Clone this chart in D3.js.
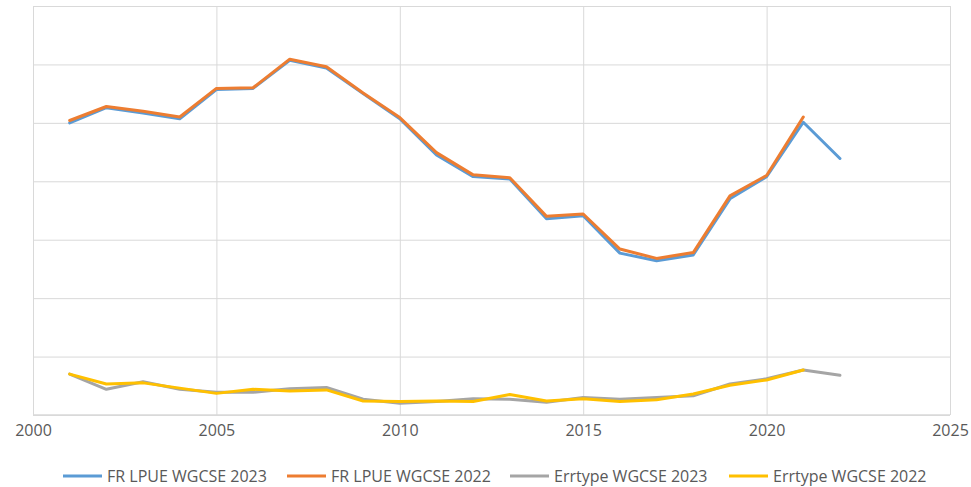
<!DOCTYPE html>
<html>
<head>
<meta charset="utf-8">
<script src="https://cdn.jsdelivr.net/npm/d3@7"></script>
<style>
  body { margin: 0; background: #fff; }
  text { font-family: "Open Sans", sans-serif; fill: #595959; }
</style>
</head>
<body>
<svg id="chart" width="971" height="487"></svg>
<script>
// years and series values (arbitrary units, 1 = one gridline)
var years = d3.range(2001, 2023);
var lpue2023 = [5.00, 5.26, 5.17, 5.07, 5.57, 5.59, 6.07, 5.94, 5.50, 5.07, 4.45,
                4.08, 4.04, 3.36, 3.41, 2.77, 2.64, 2.74, 3.70, 4.08, 5.01, 4.39];
var lpue2022 = [5.04, 5.28, 5.20, 5.10, 5.59, 5.60, 6.09, 5.96, 5.51, 5.09, 4.49,
                4.11, 4.06, 3.40, 3.44, 2.84, 2.68, 2.78, 3.75, 4.10, 5.10];
var err2023 = [0.70, 0.44, 0.57, 0.44, 0.39, 0.39, 0.45, 0.47, 0.27, 0.20, 0.23,
               0.28, 0.27, 0.22, 0.30, 0.27, 0.30, 0.33, 0.53, 0.62, 0.77, 0.68];
var err2022 = [0.70, 0.53, 0.55, 0.46, 0.37, 0.44, 0.41, 0.43, 0.24, 0.23, 0.24,
               0.23, 0.35, 0.24, 0.28, 0.23, 0.26, 0.36, 0.51, 0.60, 0.77];
var xTicks = [2000, 2005, 2010, 2015, 2020, 2025];
var seriesNames = ["FR LPUE WGCSE 2023", "FR LPUE WGCSE 2022", "Errtype WGCSE 2023", "Errtype WGCSE 2022"];
var colors = ["#5B9BD5", "#ED7D31", "#A5A5A5", "#FFC000"];

var svg = d3.select("#chart"),
    margin = {top: 6, right: 21, bottom: 72, left: 33},
    width = +svg.attr("width") - margin.left - margin.right,
    height = +svg.attr("height") - margin.top - margin.bottom;

var g = svg.append("g")
    .attr("transform", "translate(" + margin.left + "," + margin.top + ")");

var x = d3.scaleLinear().domain([2000, 2025]).range([0, width]);
var y = d3.scaleLinear().domain([0, 7]).range([height, 0]);

// horizontal gridlines
g.append("g")
    .call(d3.axisLeft(y).ticks(7).tickSize(-width).tickFormat(""))
    .call(function(a) {
      a.select(".domain").remove();
      a.selectAll("line").attr("stroke", "#D9D9D9").attr("stroke-width", 1);
    });

// vertical gridlines + year labels
g.append("g")
    .attr("transform", "translate(0," + height + ")")
    .call(d3.axisBottom(x).tickValues(xTicks).tickSize(-height).tickPadding(10).tickFormat(d3.format("d")))
    .call(function(a) {
      a.select(".domain").remove();
      a.selectAll("line").attr("stroke", "#D9D9D9").attr("stroke-width", 1);
      a.selectAll("text").attr("font-size", 16).attr("fill", "#595959")
        .style("font-family", "'Open Sans', sans-serif");
    });

// bottom axis line
g.append("line")
    .attr("x1", 0).attr("x2", width)
    .attr("y1", height).attr("y2", height)
    .attr("stroke", "#D9D9D9").attr("stroke-width", 1.5);

var line = d3.line()
    .x(function(d, i) { return x(years[i]); })
    .y(function(d) { return y(d); });

// draw in Excel order, later series on top
[lpue2023, lpue2022, err2023, err2022].forEach(function(s, k) {
  g.append("path")
      .datum(s)
      .attr("fill", "none")
      .attr("stroke", colors[k])
      .attr("stroke-width", 3)
      .attr("stroke-linejoin", "round")
      .attr("stroke-linecap", "round")
      .attr("d", line);
});

// legend
var legendX = [63, 287, 510, 729];
var legend = svg.append("g").attr("transform", "translate(0,476)");
seriesNames.forEach(function(name, k) {
  legend.append("line")
      .attr("x1", legendX[k]).attr("x2", legendX[k] + 39)
      .attr("y1", 0).attr("y2", 0)
      .attr("stroke", colors[k]).attr("stroke-width", 3);
  legend.append("text")
      .attr("x", legendX[k] + 44)
      .attr("y", 6)
      .attr("font-size", 16)
      .text(name);
});
</script>
</body>
</html>
